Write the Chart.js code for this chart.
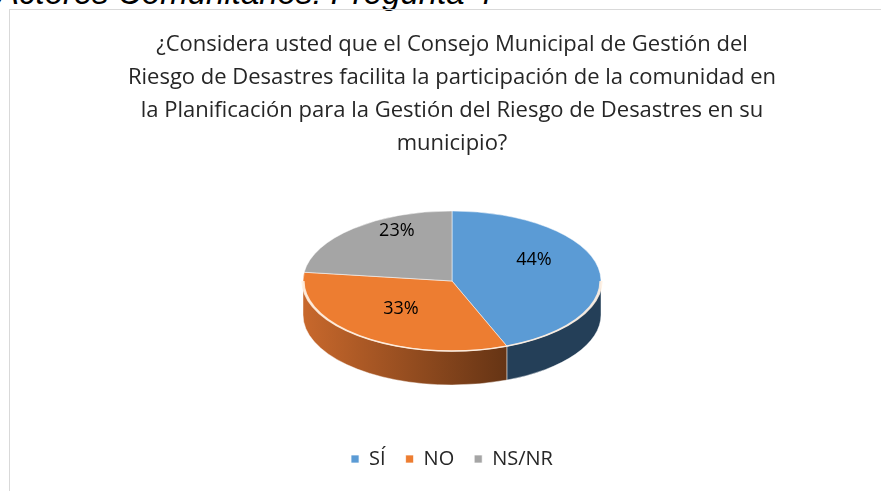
<!DOCTYPE html>
<html>
<head>
<meta charset="utf-8">
<script src="https://cdn.jsdelivr.net/npm/chart.js@4.4.0/dist/chart.umd.min.js"></script>
<style>
  html, body { margin: 0; padding: 0; background: #fff; overflow: hidden; }
  #wrap { position: relative; width: 881px; height: 491px; }
  #heading {
    position: absolute; left: -3px; top: -24px;
    font: italic 33px/33px "Liberation Sans", Arial, sans-serif;
    color: #000; white-space: nowrap;
  }
  #frame {
    position: absolute; left: 9px; top: 9px; width: 880px; height: 500px;
    border: 1.5px solid #d9d9d9;
  }
  #myChart { position: absolute; left: 0; top: 0; }
</style>
</head>
<body>
<div id="wrap">
  <div id="heading">Actores Comunitarios: Pregunta 4</div>
  <div id="frame"></div>
  <canvas id="myChart" width="881" height="491"></canvas>
</div>
<script>
const categorias = ["SÍ", "NO", "NS/NR"];
const porcentajes = [44, 33, 23];
const colores = ["#5B9BD5", "#ED7D31", "#A5A5A5"];
const titulo = [
  "¿Considera usted que el Consejo Municipal de Gestión del",
  "Riesgo de Desastres facilita la participación de la comunidad en",
  "la Planificación para la Gestión del Riesgo de Desastres en su",
  "municipio?"
];

// efecto 3D: aplastar el círculo y dibujar el canto
const TILT = 0.47;
const DEPTH = 34;

const pie3d = {
  id: "pie3d",
  beforeDatasetsDraw(chart) {
    const ctx = chart.ctx;
    const arcs = chart.getDatasetMeta(0).data;
    if (!arcs.length) return;
    const cx = arcs[0].x, cy = arcs[0].y, r = arcs[0].outerRadius;
    ctx.save();
    ctx.translate(0, cy);
    ctx.scale(1, TILT);
    ctx.translate(0, -cy);

    arcs.forEach((arc, i) => {
      // solo la parte frontal (0..PI) es visible
      let a = Math.max(arc.startAngle, 0);
      let b = Math.min(arc.endAngle, Math.PI);
      if (b <= a) return;
      let fill;
      if (i === 1) {
        const g = ctx.createLinearGradient(cx - r, 0, cx + r * 0.5, 0);
        g.addColorStop(0, "#C8682C");
        g.addColorStop(1, "#5C2F12");
        fill = g;
      } else if (i === 0) {
        fill = "#243F58";
      } else {
        fill = "#6b6b6b";
      }
      ctx.beginPath();
      ctx.arc(cx, cy, r, a, b);
      ctx.arc(cx, cy + DEPTH / TILT, r, b, a, true);
      ctx.closePath();
      ctx.fillStyle = fill;
      ctx.fill();
      ctx.strokeStyle = "rgba(255,255,255,0.6)";
      ctx.lineWidth = 1;
      ctx.stroke();
    });
  },
  afterDatasetsDraw(chart) {
    const ctx = chart.ctx;
    const arcs = chart.getDatasetMeta(0).data;
    if (!arcs.length) return;
    const cx = arcs[0].x, cy = arcs[0].y, r = arcs[0].outerRadius;
    // borde claro del frente
    ctx.beginPath();
    ctx.arc(cx, cy, r, 0, Math.PI);
    ctx.strokeStyle = "rgba(255,240,225,0.9)";
    ctx.lineWidth = 1.5 / TILT;
    ctx.stroke();
    ctx.restore();

    // etiquetas de datos
    ctx.save();
    ctx.font = "18px 'Open Sans'";
    ctx.fillStyle = "#000";
    ctx.textAlign = "center";
    ctx.textBaseline = "middle";
    arcs.forEach((arc, i) => {
      const mid = (arc.startAngle + arc.endAngle) / 2;
      const lr = r * 0.56;
      const x = cx + Math.cos(mid) * lr;
      const y = cy + Math.sin(mid) * lr * TILT * 1.3 - 12;
      ctx.fillText(porcentajes[i] + "%", x, y);
    });
    ctx.restore();
  }
};

const ctx = document.getElementById("myChart");
new Chart(ctx, {
  type: "pie",
  data: {
    labels: categorias,
    datasets: [{
      data: porcentajes,
      backgroundColor: colores,
      borderColor: "rgba(255,255,255,0.7)",
      borderWidth: 1,
      radius: 149
    }]
  },
  options: {
    responsive: false,
    animation: false,
    layout: { padding: { left: 23, right: 0, top: 0, bottom: 12 } },
    plugins: {
      tooltip: { enabled: false },
      title: {
        display: true,
        text: titulo,
        color: "#262626",
        font: { family: "'Open Sans'", size: 22, weight: "normal", lineHeight: 1.5 },
        padding: { top: 28, bottom: -27 }
      },
      legend: {
        position: "bottom",
        labels: {
          boxWidth: 8,
          boxHeight: 8,
          padding: 20,
          color: "#262626",
          font: { family: "'Open Sans'", size: 20 }
        }
      }
    }
  },
  plugins: [pie3d]
});
</script>
</body>
</html>
